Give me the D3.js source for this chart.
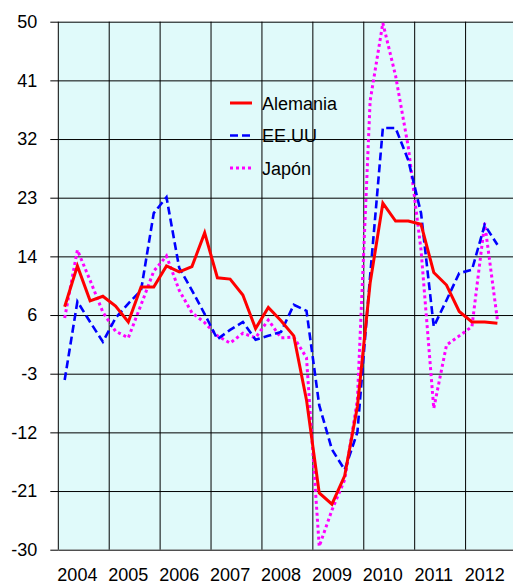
<!DOCTYPE html>
<html>
<head>
<meta charset="utf-8">
<script src="https://cdn.jsdelivr.net/npm/d3@7"></script>
<style>
  body { margin: 0; background: #fff; }
  svg { display: block; font-family: "Liberation Sans", Arial, sans-serif; }
</style>
</head>
<body>
<div id="vis_linechart"></div>
<script>
// Years on the x axis, 4 quarters each
const years = ["2004", "2005", "2006", "2007", "2008", "2009", "2010", "2011", "2012"];
const quarters = years.flatMap(y => ["T1", "T2", "T3", "T4"].map(q => y + q));

// Series values (one per quarter, starting 2004T1)
const alemania = [6.8, 13.0, 7.7, 8.4, 6.9, 4.5, 9.8, 9.8, 13.0, 12.1, 12.9, 18.0,
  11.2, 11.0, 8.6, 3.5, 6.7, 4.7, 2.4, -7.3, -21.4, -23.1, -18.8, -8.3,
  10.4, 22.5, 19.8, 19.8, 19.3, 12.0, 10.1, 6.1, 4.5, 4.5, 4.3];
const eeuu = [-4.3, 7.6, 4.5, 1.5, 5.1, 7.3, 9.3, 21.0, 23.4, 12.7, 9.3, 5.7,
  1.9, 3.3, 4.5, 1.8, 2.4, 3.0, 7.1, 6.2, -8.1, -14.8, -17.9, -12.2,
  11.5, 33.9, 33.9, 29.0, 21.0, 3.8, 7.8, 11.9, 12.4, 19.2, 16.2];
const japon = [5.1, 15.4, 10.8, 6.0, 3.1, 2.1, 7.1, 12.2, 14.5, 9.3, 5.9, 4.4,
  2.4, 1.3, 2.8, 2.1, 4.8, 2.1, 2.2, -0.9, -29.5, -24.0, -19.4, -7.3,
  38.0, 49.8, 41.8, 31.0, 15.4, -8.6, 1.0, 2.4, 3.8, 19.5, 4.8];

// y axis: 9 equal steps from -30 to 50, labels rounded
const yMin = -30, yMax = 50, ySteps = 9;
const yTicks = d3.range(ySteps + 1).map(k => yMin + k * (yMax - yMin) / ySteps);

const seriesNames = ["Alemania", "EE.UU", "Japón"];
const seriesData = [alemania, eeuu, japon];

const width = 513, height = 584;
const margin = {top: 21.7, right: -3.5, bottom: 34.3, left: 58.3};

const svg = d3.select("#vis_linechart").append("svg")
  .attr("width", width)
  .attr("height", height);

const x = d3.scaleBand().domain(quarters).range([margin.left, width - margin.right]);
const xYear = d3.scaleBand().domain(years).range([margin.left, width - margin.right]);
const y = d3.scaleLinear().domain([yMin, yMax]).range([height - margin.bottom, margin.top]);

// Plot background
svg.append("rect")
  .attr("x", margin.left)
  .attr("y", margin.top)
  .attr("width", width - margin.right - margin.left)
  .attr("height", y(yMin) - y(yMax))
  .attr("fill", "#e0fafa");

// Horizontal grid + left ticks
svg.append("g")
  .attr("transform", "translate(" + margin.left + ",0)")
  .call(d3.axisLeft(y)
    .tickValues(yTicks)
    .tickSize(8)
    .tickFormat(d => Math.round(d)))
  .call(g => g.select(".domain").remove())
  .call(g => g.selectAll(".tick line").attr("stroke", "#000"))
  .call(g => g.selectAll(".tick line").clone()
    .attr("x1", 0).attr("x2", width - margin.left)
    .attr("stroke", "#000"))
  .call(g => g.selectAll(".tick text")
    .attr("x", -21)
    .attr("font-size", 18)
    .attr("fill", "#000"));

// Vertical grid at year boundaries
svg.append("g")
  .selectAll("line")
  .data(years)
  .join("line")
  .attr("x1", d => xYear(d))
  .attr("x2", d => xYear(d))
  .attr("y1", y(yMax))
  .attr("y2", y(yMin))
  .attr("stroke", "#000")
  .attr("stroke-width", 1);

// Year labels (centered on second quarter)
svg.append("g")
  .selectAll("text")
  .data(years)
  .join("text")
  .attr("x", d => x(d + "T2") + x.bandwidth() / 2)
  .attr("y", 580.5)
  .attr("text-anchor", "middle")
  .attr("font-size", 18)
  .text(d => d);

const styles = [
  {color: "#ff0000", width: 3, dash: null},
  {color: "#0000ff", width: 2.6, dash: "8,4"},
  {color: "#ff00ff", width: 3, dash: "3,3"}
];

const line = d3.line()
  .x((d, i) => x(quarters[i]) + x.bandwidth() / 2)
  .y(d => y(d));

// Draw Japón first, Alemania on top
[2, 1, 0].forEach(k => {
  svg.append("path")
    .datum(seriesData[k])
    .attr("d", line)
    .attr("fill", "none")
    .attr("stroke", styles[k].color)
    .attr("stroke-width", styles[k].width)
    .attr("stroke-dasharray", styles[k].dash)
    .attr("stroke-linejoin", "miter");
});

// Legend
const legend = svg.append("g").attr("transform", "translate(230,103)");
seriesNames.forEach((name, k) => {
  const row = legend.append("g").attr("transform", "translate(0," + (k * 32.5) + ")");
  row.append("line")
    .attr("x1", 0).attr("x2", 22)
    .attr("stroke", styles[k].color)
    .attr("stroke-width", styles[k].width)
    .attr("stroke-dasharray", styles[k].dash);
  row.append("text")
    .attr("x", 32)
    .attr("y", 6.5)
    .attr("font-size", 18)
    .text(name);
});
</script>
</body>
</html>
